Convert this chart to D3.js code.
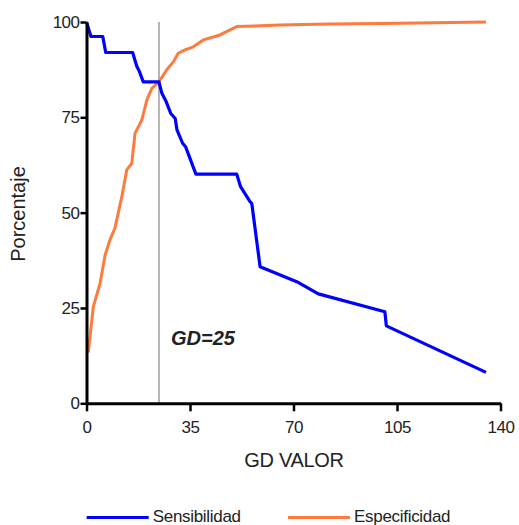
<!DOCTYPE html>
<html>
<head>
<meta charset="utf-8">
<script src="https://cdn.jsdelivr.net/npm/d3@7"></script>
<style>
  html, body { margin: 0; padding: 0; background: #fff; }
  svg { display: block; font-family: "Liberation Sans", Arial, sans-serif; }
</style>
</head>
<body>
<svg id="chart" width="519" height="525"></svg>
<script>
// ---- data ----
const sensX = [0, 1.5, 5.5, 6.5, 15.6, 17.0, 17.9, 19.2, 24.5, 25.5, 27.0, 28.5, 30.0, 30.6, 32.5, 33.5, 37.0, 50.8, 52.1, 55.3, 55.9, 58.7, 71.1, 78.4, 100.9, 101.4, 135.1];
const sensY = [100, 96.2, 96.2, 92.0, 92.0, 88.4, 87.0, 84.3, 84.3, 81.3, 79.0, 76.0, 74.7, 71.7, 68.2, 67.3, 60.1, 60.1, 56.8, 52.9, 52.4, 35.8, 31.9, 28.7, 24.0, 20.3, 8.1];
const specX = [0.6, 2.3, 4.6, 6.3, 7.9, 9.6, 11.9, 13.6, 15.3, 16.4, 18.7, 20.4, 22.1, 24.5, 27.1, 29.4, 31.0, 33.3, 36.1, 39.5, 45.1, 50.8, 65.4, 82.0, 100.0, 135.1];
const specY = [13.3, 25.3, 31.5, 38.9, 42.8, 45.9, 54.0, 61.2, 62.9, 70.8, 74.3, 79.5, 82.6, 84.3, 87.4, 89.6, 91.8, 92.7, 93.5, 95.3, 96.6, 98.8, 99.2, 99.5, 99.6, 100];
const xTicks = [0, 35, 70, 105, 140];
const yTicks = [0, 25, 50, 75, 100];
const cutoff = 24.5;
const cutoffLabel = "GD=25";
const seriesNames = ["Sensibilidad", "Especificidad"];
const seriesColors = ["#0000ff", "#ff7a3d"];

// ---- drawing ----
const svg = d3.select("#chart");
const x = d3.scaleLinear().domain([0, 140]).range([86.5, 500.5]);
const y = d3.scaleLinear().domain([0, 100]).range([403.3, 22]);
const textColor = "#222";

// cutoff line
svg.append("line")
  .attr("x1", x(cutoff)).attr("x2", x(cutoff))
  .attr("y1", y(100)).attr("y2", y(0))
  .attr("stroke", "#b4b4b4").attr("stroke-width", 2);

const line = d3.line().x(d => x(d[0])).y(d => y(d[1]));
const sens = sensX.map((v, i) => [v, sensY[i]]);
const spec = specX.map((v, i) => [v, specY[i]]);

svg.append("path").datum(spec).attr("d", line)
  .attr("fill", "none").attr("stroke", seriesColors[1]).attr("stroke-width", 3)
  .attr("stroke-linejoin", "round");
svg.append("path").datum(sens).attr("d", line)
  .attr("fill", "none").attr("stroke", seriesColors[0]).attr("stroke-width", 3.2)
  .attr("stroke-linejoin", "round");

// axes
const xAxis = svg.append("g").attr("transform", `translate(0,${y(0)})`)
  .call(d3.axisBottom(x).tickValues(xTicks).tickSizeInner(8).tickSizeOuter(0).tickPadding(10));
const yAxis = svg.append("g").attr("transform", `translate(${x(0)},0)`)
  .call(d3.axisLeft(y).tickValues(yTicks).tickSizeInner(6).tickSizeOuter(0).tickPadding(1));
[xAxis, yAxis].forEach(g => {
  g.select(".domain").attr("stroke", "#000").attr("stroke-width", 3);
  g.selectAll(".tick line").attr("stroke", "#000").attr("stroke-width", 2.5);
  g.selectAll(".tick text").attr("fill", textColor)
    .style("font-size", "17px").style("font-family", "'Liberation Sans', Arial, sans-serif")
    .attr("letter-spacing", "-0.5px");
});

// axis titles
svg.append("text").attr("x", 294).attr("y", 467).attr("text-anchor", "middle")
  .attr("fill", textColor).style("font-size", "20px").attr("letter-spacing", "-0.3px")
  .text("GD VALOR");
svg.append("text").attr("transform", "translate(25,214) rotate(-90)")
  .attr("text-anchor", "middle").attr("fill", textColor)
  .style("font-size", "20px").text("Porcentaje");

// cutoff label
svg.append("text").attr("x", 171).attr("y", 345)
  .attr("fill", textColor).style("font-size", "20px")
  .style("font-weight", "bold").style("font-style", "italic")
  .text(cutoffLabel);

// legend
const legX = [86.7, 288];
seriesNames.forEach((name, i) => {
  svg.append("line").attr("x1", legX[i]).attr("x2", legX[i] + 62)
    .attr("y1", 517.5).attr("y2", 517.5)
    .attr("stroke", seriesColors[i]).attr("stroke-width", 3);
  svg.append("text").attr("x", legX[i] + 66).attr("y", 522)
    .attr("fill", textColor).style("font-size", "17px").attr("letter-spacing", "-0.3px")
    .text(name);
});
</script>
</body>
</html>
